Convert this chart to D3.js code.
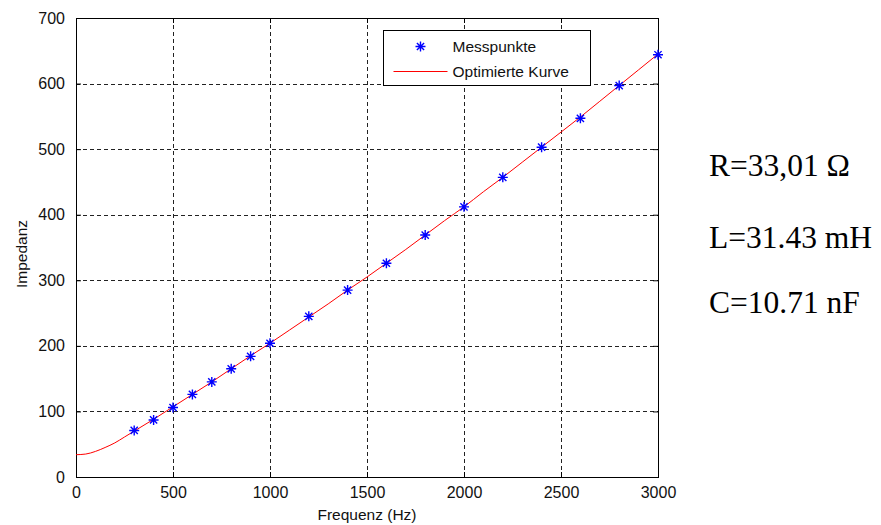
<!DOCTYPE html>
<html>
<head>
<meta charset="utf-8">
<script src="https://cdn.jsdelivr.net/npm/d3@7"></script>
<style>
  body { margin: 0; background: #fff; }
  svg { display: block; }
  .tick-label { font-family: Arial, "Liberation Sans", sans-serif; font-size: 16px; fill: #111; }
  .axis-title { font-family: Arial, "Liberation Sans", sans-serif; font-size: 15.5px; fill: #111; }
  .legend-text { font-family: Arial, "Liberation Sans", sans-serif; font-size: 15.5px; fill: #111; }
  .param { font-family: "Times New Roman", "Liberation Serif", serif; font-size: 31.5px; fill: #000; }
</style>
</head>
<body>
<div id="chart"></div>
<script>
// measured points
const freqPoints = [300, 400, 500, 600, 700, 800, 900, 1000, 1200, 1400, 1600, 1800, 2000, 2200, 2400, 2600, 2800, 3000];
const impedancePoints = [71, 87, 106, 126, 145, 165, 184, 204, 245, 285, 326, 369, 412, 457, 503, 547, 597, 644];

// fitted curve
const curveFreq = [0, 50, 100, 150, 200, 250, 300, 400, 500, 600, 700, 800, 900, 1000, 1100, 1200, 1300, 1400, 1500,
  1600, 1700, 1800, 1900, 2000, 2100, 2200, 2300, 2400, 2500, 2600, 2700, 2800, 2900, 3000];
const curveImpedance = [34, 35, 39, 45, 52, 61, 70, 88, 107, 126, 145, 165, 185, 204, 224, 244, 264, 285, 305,
  326, 347, 369, 391, 412, 435, 457, 480, 503, 526, 549, 573, 597, 621, 645];

const xTicks = [0, 500, 1000, 1500, 2000, 2500, 3000];
const yTicks = [0, 100, 200, 300, 400, 500, 600, 700];
const legendLabels = ['Messpunkte', 'Optimierte Kurve'];
const paramLines = ['R=33,01 Ω', 'L=31.43 mH', 'C=10.71 nF'];

const width = 881, height = 525;
const plot = {left: 76, right: 658, top: 18, bottom: 477};

const svg = d3.select('#chart').append('svg')
  .attr('width', width)
  .attr('height', height);

svg.append('rect').attr('width', width).attr('height', height).attr('fill', '#fff');

const x = d3.scaleLinear().domain([0, 3000]).range([plot.left, plot.right]);
const y = d3.scaleLinear().domain([0, 700]).range([plot.bottom, plot.top]);

// grid
const grid = svg.append('g').attr('stroke', '#222').attr('stroke-width', 1).attr('stroke-dasharray', '4,3');
grid.selectAll('.gx').data(xTicks.slice(1, -1)).enter().append('line')
  .attr('x1', (d) => Math.round(x(d)) + 0.5).attr('x2', (d) => Math.round(x(d)) + 0.5)
  .attr('y1', plot.top).attr('y2', plot.bottom);
grid.selectAll('.gy').data(yTicks.slice(1, -1)).enter().append('line')
  .attr('y1', (d) => Math.round(y(d)) + 0.5).attr('y2', (d) => Math.round(y(d)) + 0.5)
  .attr('x1', plot.left).attr('x2', plot.right);

// axes (box with inward ticks)
const tickLen = 5;
const fmt = d3.format('d');
const bottomAxis = svg.append('g')
  .attr('transform', `translate(0, ${plot.bottom})`)
  .call(d3.axisBottom(x).tickValues(xTicks).tickFormat(fmt).tickSizeInner(-tickLen).tickSizeOuter(0).tickPadding(10));
const topAxis = svg.append('g')
  .attr('transform', `translate(0, ${plot.top})`)
  .call(d3.axisTop(x).tickValues(xTicks).tickSizeInner(-tickLen).tickSizeOuter(0).tickFormat(''));
const leftAxis = svg.append('g')
  .attr('transform', `translate(${plot.left}, 0)`)
  .call(d3.axisLeft(y).tickValues(yTicks).tickFormat(fmt).tickSizeInner(-tickLen).tickSizeOuter(0).tickPadding(11));
const rightAxis = svg.append('g')
  .attr('transform', `translate(${plot.right}, 0)`)
  .call(d3.axisRight(y).tickValues(yTicks).tickSizeInner(-tickLen).tickSizeOuter(0).tickFormat(''));

[bottomAxis, topAxis, leftAxis, rightAxis].forEach((a) => {
  a.select('.domain').remove();
  a.selectAll('line').attr('stroke', '#000');
  a.selectAll('text').attr('class', 'tick-label').attr('font-family', null).attr('font-size', null).attr('fill', null);
});

svg.append('rect')
  .attr('x', plot.left + 0.5).attr('y', plot.top + 0.5)
  .attr('width', plot.right - plot.left).attr('height', plot.bottom - plot.top)
  .attr('fill', 'none').attr('stroke', '#000').attr('stroke-width', 1);

// fitted curve
const line = d3.line()
  .x((d, i) => x(curveFreq[i]))
  .y((d) => y(d))
  .curve(d3.curveMonotoneX);

svg.append('path')
  .datum(curveImpedance)
  .attr('fill', 'none')
  .attr('stroke', '#ff0000')
  .attr('stroke-width', 1)
  .attr('d', line);

// asterisk markers
function star(r) {
  const k = r * 0.72;
  return `M${-r},0H${r}M0,${-r}V${r}M${-k},${-k}L${k},${k}M${-k},${k}L${k},${-k}`;
}

svg.append('g').selectAll('path')
  .data(impedancePoints)
  .enter().append('path')
  .attr('transform', (d, i) => `translate(${x(freqPoints[i])}, ${y(d)})`)
  .attr('d', star(5))
  .attr('fill', 'none')
  .attr('stroke', '#0000ff')
  .attr('stroke-width', 1.4);

// axis titles
svg.append('text')
  .attr('class', 'axis-title')
  .attr('x', (plot.left + plot.right) / 2)
  .attr('y', 520)
  .attr('text-anchor', 'middle')
  .text('Frequenz (Hz)');

svg.append('text')
  .attr('class', 'axis-title')
  .attr('transform', 'translate(27, 254) rotate(-90)')
  .attr('text-anchor', 'middle')
  .text('Impedanz');

// legend
const legend = svg.append('g').attr('transform', 'translate(383.5, 30.5)');
legend.append('rect')
  .attr('width', 207).attr('height', 55)
  .attr('fill', '#fff').attr('stroke', '#000').attr('stroke-width', 1);
legend.append('path')
  .attr('transform', 'translate(37, 16)')
  .attr('d', star(5))
  .attr('fill', 'none').attr('stroke', '#0000ff').attr('stroke-width', 1.4);
legend.append('line')
  .attr('x1', 10).attr('x2', 64).attr('y1', 41).attr('y2', 41)
  .attr('stroke', '#ff0000').attr('stroke-width', 1);
legend.selectAll('.legend-text')
  .data(legendLabels)
  .enter().append('text')
  .attr('class', 'legend-text')
  .attr('x', 69)
  .attr('y', (d, i) => 21 + i * 25)
  .text((d) => d);

// fitted parameters
svg.selectAll('.param')
  .data(paramLines)
  .enter().append('text')
  .attr('class', 'param')
  .attr('x', 709)
  .attr('y', (d, i) => [176, 248, 313][i])
  .text((d) => d);
</script>
</body>
</html>
